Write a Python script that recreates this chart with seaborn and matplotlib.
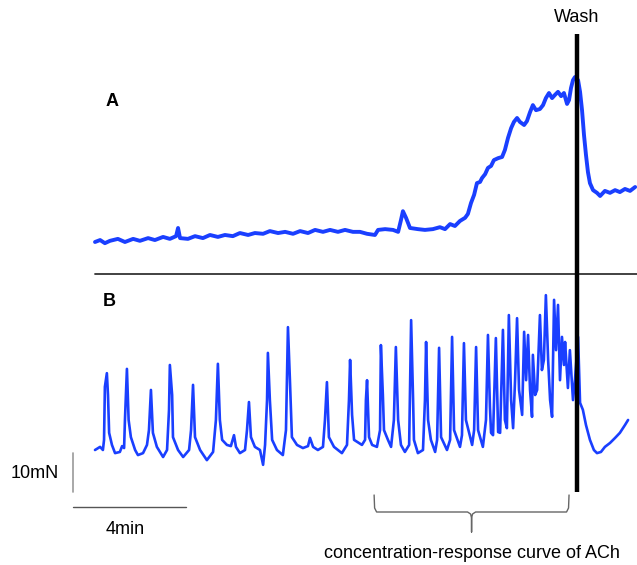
import numpy as np
import pandas as pd
import matplotlib
matplotlib.use("Agg")
import matplotlib.pyplot as plt
import seaborn as sns

# ---------------- data (time in min, force in mN) ----------------
a_time = [0.00, 0.18, 0.35, 0.53, 0.81, 1.06, 1.35, 1.59, 1.88, 2.12, 2.41, 2.65, 2.87, 2.94, 3.01,
          3.29, 3.54, 3.82, 4.07, 4.35, 4.60, 4.88, 5.13, 5.42, 5.66, 5.95, 6.19, 6.48, 6.73, 7.01,
          7.26, 7.54, 7.79, 8.07, 8.32, 8.60, 8.85, 9.13, 9.38, 9.63, 9.91, 10.02, 10.27, 10.55,
          10.73, 10.83, 10.90, 11.01, 11.15, 11.43, 11.68, 11.96, 12.21, 12.39, 12.57, 12.74, 12.92,
          13.10, 13.20, 13.31, 13.42, 13.52, 13.63, 13.70, 13.81, 13.91, 14.02, 14.12, 14.27, 14.41,
          14.51, 14.62, 14.73, 14.83, 14.94, 15.04, 15.19, 15.29, 15.40, 15.50, 15.61, 15.75, 15.86,
          15.96, 16.07, 16.18, 16.28, 16.39, 16.50, 16.60, 16.71, 16.78, 16.85, 16.92, 16.99, 17.10,
          17.17, 17.24, 17.31, 17.38, 17.45, 17.52, 17.63, 17.77, 17.88, 18.05, 18.23, 18.41, 18.58,
          18.76, 18.94, 19.12]
a_force = [0.0, 0.5, -0.3, 0.3, 0.8, 0.0, 0.8, 0.3, 1.0, 0.5, 1.3, 0.8, 1.5, 3.6, 1.0,
           0.8, 1.5, 1.0, 1.8, 1.3, 1.8, 1.5, 2.3, 1.8, 2.3, 2.1, 2.8, 2.3, 2.6, 2.1,
           2.8, 2.3, 3.1, 2.6, 3.1, 2.6, 3.1, 2.6, 2.6, 2.1, 1.8, 3.1, 3.3, 3.1,
           2.6, 5.6, 7.9, 6.2, 3.6, 3.3, 3.1, 3.3, 3.8, 3.3, 4.6, 4.1, 5.4,
           6.2, 7.2, 10.0, 12.1, 15.1, 15.4, 16.4, 17.4, 19.0, 19.5, 21.0, 21.5, 21.8,
           23.6, 26.7, 29.2, 30.8, 31.8, 30.8, 30.0, 31.0, 33.3, 35.1, 33.8, 34.1, 35.1,
           36.9, 38.2, 36.9, 37.7, 38.5, 37.4, 38.2, 35.4, 36.4, 39.5, 41.5, 42.3, 41.5,
           38.5, 33.8, 27.4, 22.3, 17.9, 15.1, 13.3, 12.6, 11.8, 13.1, 12.6, 13.3, 12.8,
           13.6, 13.1, 14.1]

b_time = [0.00, 0.18, 0.28, 0.32, 0.35, 0.42, 0.46, 0.50, 0.60, 0.71, 0.88, 0.96, 1.03, 1.06, 1.13,
          1.19, 1.27, 1.42, 1.52, 1.70, 1.84, 1.91, 1.98, 2.05, 2.19, 2.41, 2.55, 2.62, 2.65, 2.73,
          2.76, 2.94, 3.12, 3.33, 3.40, 3.47, 3.54, 3.72, 3.96, 4.18, 4.28, 4.35, 4.42, 4.50, 4.67,
          4.81, 4.92, 4.99, 5.13, 5.31, 5.38, 5.45, 5.52, 5.66, 5.84, 5.95, 6.02, 6.09, 6.12, 6.19,
          6.27, 6.44, 6.65, 6.76, 6.80, 6.83, 6.90, 6.97, 7.15, 7.36, 7.54, 7.61, 7.72, 7.89, 8.07,
          8.14, 8.21, 8.28, 8.46, 8.74, 8.92, 8.99, 9.03, 9.10, 9.17, 9.45, 9.56, 9.59, 9.63, 9.70,
          9.81, 9.98, 10.09, 10.12, 10.19, 10.23, 10.37, 10.48, 10.58, 10.65, 10.73, 10.83, 10.97,
          11.12, 11.15, 11.19, 11.26, 11.29, 11.43, 11.61, 11.68, 11.72, 11.79, 11.89, 12.04, 12.11,
          12.18, 12.25, 12.46, 12.57, 12.64, 12.71, 12.92, 12.99, 13.06, 13.13, 13.35, 13.42, 13.49,
          13.56, 13.73, 13.84, 13.91, 13.98, 14.02, 14.09, 14.19, 14.27, 14.34, 14.44, 14.51, 14.58,
          14.65, 14.73, 14.80, 14.87, 14.94, 15.01, 15.12, 15.19, 15.26, 15.33, 15.40, 15.47, 15.50,
          15.58, 15.65, 15.75, 15.82, 15.89, 15.96, 16.04, 16.11, 16.18, 16.25, 16.32, 16.39, 16.46,
          16.53, 16.60, 16.64, 16.74, 16.81, 16.92, 16.99, 17.10, 17.17, 17.27, 17.38, 17.52, 17.66,
          17.77, 17.91, 18.05, 18.23, 18.41, 18.58, 18.76, 18.87]
b_force = [0.0, 0.8, 0.0, 2.6, 16.2, 19.7, 14.1, 4.4, 1.3, -0.8, -0.5, 1.0, 0.5, 7.7, 20.8,
           7.7, 3.3, 0.0, -1.3, -0.8, 1.3, 5.1, 15.4, 4.4, 0.8, -1.8, 0.0, 10.3, 21.8, 14.1,
           3.3, 0.0, -1.8, 0.0, 5.1, 16.7, 3.3, 0.0, -2.6, -0.5, 7.7, 22.1, 7.7, 2.6, 1.3,
           1.0, 3.8, 0.8, -0.8, 0.0, 5.1, 12.3, 3.3, 0.8, 0.0, -3.8, 1.3, 12.8, 24.9, 12.8,
           2.6, 0.0, -1.3, 5.1, 19.7, 31.5, 17.9, 3.3, 1.3, 0.5, 1.0, 3.1, 0.8, 0.0, 0.8,
           7.7, 17.4, 3.3, 0.8, -0.8, 1.3, 12.8, 23.1, 9.0, 2.6, 1.3, 2.6, 12.8, 17.9, 3.3,
           1.3, 0.8, 5.1, 26.9, 14.1, 5.1, 2.6, 0.8, 7.7, 26.4, 7.7, 1.3, -0.5,
           1.3, 15.4, 33.3, 12.8, 2.6, -0.8, 0.0, 12.8, 27.7, 7.7, 2.6, -0.5, 2.6,
           26.2, 3.3, 0.0, 2.6, 29.0, 5.1, 0.8, 3.8, 27.4, 7.7, 1.3, 5.1, 26.4,
           5.1, 0.8, 7.7, 29.5, 11.0, 4.4, 3.8, 28.7, 4.6, 4.4, 30.8, 7.7, 5.6,
           34.6, 12.8, 5.6, 17.9, 33.8, 15.4, 9.0, 30.3, 17.9, 29.5, 15.4, 8.5, 24.4,
           14.1, 15.4, 34.6, 20.5, 23.1, 39.7, 23.1, 12.8, 8.5, 38.5, 25.6, 37.2, 17.9,
           29.0, 21.8, 27.7, 15.9, 25.6, 12.8, 17.9, 29.0, 12.1, 10.3, 6.4, 2.6, 0.0,
           -0.8, -0.5, 0.8, 1.8, 3.1, 4.4, 6.4, 7.7]

ach_start, ach_end = 9.88, 16.78   # concentration-response period (min)
wash_time = 17.06                   # wash (min)
scale_force = 10                    # mN
scale_time = 4                      # min

# ---------------- layout ----------------
W, H = 637, 565
px_per_min, px_per_mN = 28.25, 3.9
x0_px, base_b_px, base_a_px = 95, 450, 242
a_offset = (base_b_px - base_a_px) / px_per_mN
trace_color = "#1a3fff"

sns.set_theme(style="white")
plt.rcParams['font.family'] = ['Liberation Sans', 'DejaVu Sans']
plt.rcParams['text.color'] = 'black'

fig = plt.figure(figsize=(W / 100, H / 100), dpi=100)
ax = fig.add_axes([0, 0, 1, 1])
ax.set_xlim(-x0_px / px_per_min, (W - x0_px) / px_per_min)
ax.set_ylim(-(H - base_b_px) / px_per_mN, base_b_px / px_per_mN)
ax.axis("off")

dfa = pd.DataFrame({"t": a_time, "f": np.array(a_force) + a_offset})
dfb = pd.DataFrame({"t": b_time, "f": b_force})
sns.lineplot(data=dfa, x="t", y="f", sort=False, estimator=None, ax=ax,
             color=trace_color, linewidth=2.8)
sns.lineplot(data=dfb, x="t", y="f", sort=False, estimator=None, ax=ax,
             color=trace_color, linewidth=1.9)

xt = ax.get_xaxis_transform()
def fy(py):
    return 1 - py / H

# separator
ax.plot([0, (W - x0_px) / px_per_min], [fy(274)] * 2, transform=xt, color="#333333", lw=1.3)
# wash line
ax.plot([wash_time, wash_time], [fy(492), fy(34)], transform=xt, color="black", lw=3.2,
        solid_capstyle="butt")
ax.text(wash_time, fy(17), "Wash", transform=xt, ha="center", va="center", fontsize=13,
        color="black")

# bracket
tm = (ach_start + ach_end) / 2
d = 1 / px_per_min
bx = [ach_start, ach_start + 0.5 * d, ach_start + 2.5 * d, tm - 4 * d, tm - 1 * d, tm, tm,
      tm, tm + 1 * d, tm + 4 * d, ach_end - 2.5 * d, ach_end - 0.5 * d, ach_end]
by = [495, 508, 512, 512, 514, 518, 532, 518, 514, 512, 512, 508, 495]
ax.plot(bx, [fy(v) for v in by], transform=xt, color="#666666", lw=1.0)
ax.text(tm, fy(553), "concentration-response curve of ACh", transform=xt,
        ha="center", va="center", fontsize=13, color="black")

# scale bars
sb_t = -22 / px_per_min
sb_f = -(492 - base_b_px) / px_per_mN
ax.plot([sb_t, sb_t], [sb_f, sb_f + scale_force], color="#999999", lw=1.2)
ax.plot([sb_t, sb_t + scale_time], [fy(507)] * 2, transform=xt, color="#555555", lw=1.0)
ax.text(35 / W, fy(473), "10mN", transform=ax.transAxes, ha="center", va="center",
        fontsize=13, color="black")
ax.text(125 / W, fy(530), "4min", transform=ax.transAxes, ha="center", va="center",
        fontsize=13, color="black")

# panel labels
ax.text(112 / W, fy(101), "A", transform=ax.transAxes, ha="center", va="center",
        fontsize=13, fontweight="bold", color="black")
ax.text(109 / W, fy(302), "B", transform=ax.transAxes, ha="center", va="center",
        fontsize=13, fontweight="bold", color="black")

fig.savefig("out.png", dpi=100)
